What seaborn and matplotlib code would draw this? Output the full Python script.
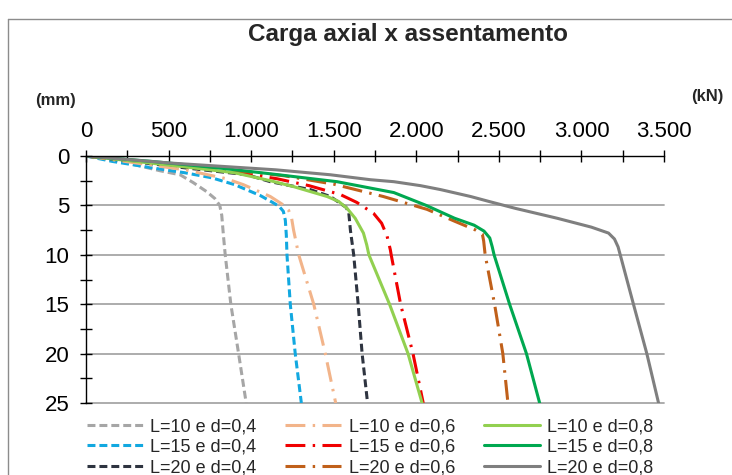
import matplotlib
matplotlib.use("Agg")
import matplotlib.pyplot as plt
from matplotlib.lines import Line2D
from matplotlib.ticker import MultipleLocator, FuncFormatter
import pandas as pd
import seaborn as sns

# Settlement curves: axial load (kN) vs. settlement (mm)
carga_L10_d04 = [0, 150, 300, 450, 570, 650, 730, 780, 810, 822, 832, 843, 877, 924, 970]
recalque_L10_d04 = [0, 0.4, 0.9, 1.5, 1.9, 2.7, 3.6, 4.3, 5.0, 6.0, 8.0, 10, 15, 20, 25]

carga_L15_d04 = [0, 160, 400, 600, 760, 900, 1055, 1130, 1170, 1195, 1207, 1213, 1217, 1237, 1267, 1304]
recalque_L15_d04 = [0, 0.55, 1.2, 1.7, 2.2, 2.9, 4.0, 4.7, 5.1, 5.6, 6.5, 8.0, 10, 15, 20, 25]

carga_L20_d04 = [0, 300, 600, 975, 1116, 1358, 1480, 1540, 1575, 1591, 1601, 1621, 1648, 1672, 1705]
recalque_L20_d04 = [0, 0.6, 1.2, 1.9, 2.6, 3.4, 4.1, 4.8, 5.2, 5.7, 7.5, 10, 15, 20, 25]

carga_L10_d06 = [0, 300, 600, 850, 953, 1116, 1190, 1227, 1245, 1257, 1288, 1379, 1449, 1512]
recalque_L10_d06 = [0, 0.7, 1.4, 2.3, 2.9, 4.1, 4.9, 5.5, 6.3, 7.5, 10, 15, 20, 25]

carga_L15_d06 = [0, 300, 700, 1000, 1156, 1350, 1540, 1640, 1741, 1790, 1823, 1843, 1848, 1905, 1980, 2042]
recalque_L15_d06 = [0, 0.5, 1.2, 1.9, 2.3, 3.0, 3.9, 4.7, 5.8, 6.8, 8.1, 9.5, 10, 15, 20, 25]

carga_L20_d06 = [0, 400, 800, 1200, 1500, 1800, 2065, 2232, 2360, 2400, 2408, 2417, 2474, 2524, 2555]
recalque_L20_d06 = [0, 0.6, 1.3, 2.0, 2.85, 4.1, 5.4, 6.6, 7.5, 7.9, 8.6, 10, 15, 20, 25]

carga_L10_d08 = [0, 300, 600, 900, 1116, 1257, 1460, 1530, 1581, 1630, 1680, 1700, 1713, 1838, 1950, 2035]
recalque_L10_d08 = [0, 0.55, 1.1, 1.7, 2.5, 3.1, 4.1, 4.6, 5.3, 6.3, 7.8, 9.0, 10, 15, 20, 25]

carga_L15_d08 = [0, 400, 800, 1116, 1520, 1864, 2060, 2232, 2350, 2410, 2445, 2460, 2471, 2565, 2667, 2747]
recalque_L15_d08 = [0, 0.55, 1.2, 1.8, 2.6, 3.7, 5.0, 6.3, 7.0, 7.6, 8.3, 9.2, 10, 15, 20, 25]

carga_L20_d08 = [0, 500, 1150, 1480, 1722, 1864, 2025, 2147, 2329, 2440, 2600, 2853, 3060, 3164,
                 3200, 3222, 3235, 3315, 3396, 3467]
recalque_L20_d08 = [0, 0.7, 1.4, 1.9, 2.4, 2.6, 3.0, 3.4, 4.1, 4.6, 5.3, 6.3, 7.2, 7.8,
                    8.4, 9.2, 10, 15, 20, 25]

series = ["L=10 e d=0,4", "L=15 e d=0,4", "L=20 e d=0,4",
          "L=10 e d=0,6", "L=15 e d=0,6", "L=20 e d=0,6",
          "L=10 e d=0,8", "L=15 e d=0,8", "L=20 e d=0,8"]
cargas = [carga_L10_d04, carga_L15_d04, carga_L20_d04,
          carga_L10_d06, carga_L15_d06, carga_L20_d06,
          carga_L10_d08, carga_L15_d08, carga_L20_d08]
recalques = [recalque_L10_d04, recalque_L15_d04, recalque_L20_d04,
             recalque_L10_d06, recalque_L15_d06, recalque_L20_d06,
             recalque_L10_d08, recalque_L15_d08, recalque_L20_d08]

x_ticks = [0, 500, 1000, 1500, 2000, 2500, 3000, 3500]
y_ticks = [0, 5, 10, 15, 20, 25]

cores = ["#A6A6A6", "#12A8E0", "#2E3440",
         "#F2B48A", "#F00000", "#C0601A",
         "#92D050", "#00A850", "#7F7F7F"]
tracos = [(2.6, 1.3), (2.6, 1.3), (2.6, 1.3),
          (6.5, 2.4, 0.8, 2.4), (6.5, 2.4, 0.8, 2.4), (6.5, 2.4, 0.8, 2.4),
          "", "", ""]

frames = []
for nome, xs, ys in zip(series, cargas, recalques):
    frames.append(pd.DataFrame({"carga": xs, "recalque": ys, "serie": nome}))
df = pd.concat(frames, ignore_index=True)

sns.set_style("white")
plt.rcParams["font.family"] = ["Liberation Sans", "DejaVu Sans"]

fig = plt.figure(figsize=(7.32, 4.75), dpi=100)
W, H = 732, 475
ax = fig.add_axes([86 / W, 1 - 403 / H, (664 - 86) / W, (403 - 156) / H])

sns.lineplot(data=df, x="carga", y="recalque", hue="serie", hue_order=series,
             style="serie", style_order=series,
             palette=dict(zip(series, cores)), dashes=dict(zip(series, tracos)),
             sort=False, estimator=None, linewidth=2.2, ax=ax)

ax.set_xlim(0, 3500)
ax.set_ylim(25, 0)
ax.set_xlabel("")
ax.set_ylabel("")

# axis at the top, load increasing to the right, settlement downwards
ax.xaxis.tick_top()
ax.set_xticks(x_ticks)
ax.set_yticks(y_ticks)
ax.xaxis.set_minor_locator(MultipleLocator(250))
ax.yaxis.set_minor_locator(MultipleLocator(2.5))
ax.xaxis.set_major_formatter(FuncFormatter(lambda v, p: f"{v:,.0f}".replace(",", ".")))
ax.tick_params(axis="both", which="both", direction="inout", length=8, width=1,
               color="black", labelsize=16, labelcolor="black")
ax.tick_params(axis="x", which="major", pad=6)
ax.tick_params(axis="y", which="major", pad=8)
ax.tick_params(left=True, top=True, bottom=False, right=False, which="both")

for s in ["right", "bottom"]:
    ax.spines[s].set_visible(False)
for s in ["left", "top"]:
    ax.spines[s].set_color("black")
    ax.spines[s].set_linewidth(1)

for yv in [5, 10, 15, 20, 25]:
    ax.axhline(yv, color="#A6A6A6", lw=1.3, zorder=0, clip_on=False)
ax.grid(False)

handles, labels = ax.get_legend_handles_labels()
ax.legend(handles, labels, ncol=3, loc="upper left",
          bbox_to_anchor=(87 / W, 1 - 418 / H), bbox_transform=fig.transFigure,
          frameon=False, fontsize=13, handlelength=3.1, handletextpad=0.4,
          columnspacing=1.6, labelspacing=0.2, borderpad=0, borderaxespad=0)

fig.text(408 / W, 1 - 35 / H, "Carga axial x assentamento", ha="center", va="center",
         fontsize=17.5, fontweight="bold")
fig.text(56 / W, 1 - 100 / H, "(mm)", ha="center", va="center", fontsize=12, fontweight="bold")
fig.text(707 / W, 1 - 96 / H, "(kN)", ha="center", va="center", fontsize=12, fontweight="bold")

# chart frame
fig.add_artist(Line2D([8 / W, 8 / W], [0, 1 - 19 / H], transform=fig.transFigure,
                      color="#8C8C8C", lw=1))
fig.add_artist(Line2D([8 / W, 1], [1 - 19 / H, 1 - 19 / H], transform=fig.transFigure,
                      color="#8C8C8C", lw=1))

fig.savefig("out.png", dpi=100, facecolor="white")
